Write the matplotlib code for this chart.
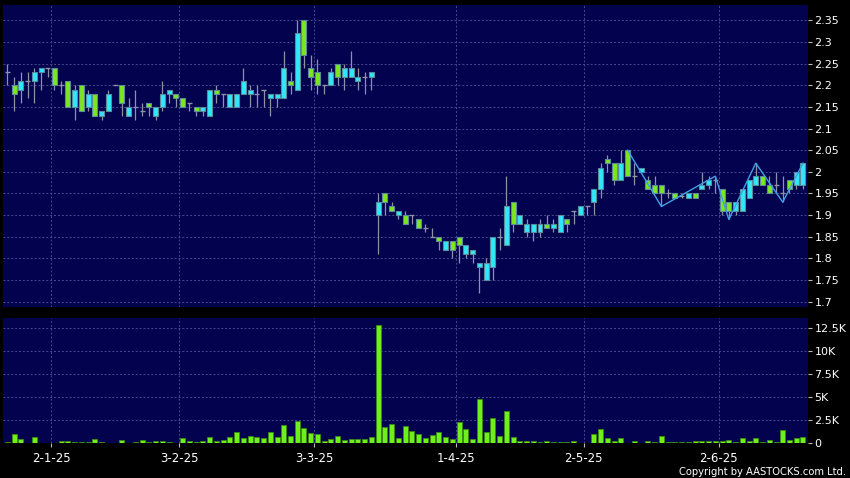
import matplotlib
matplotlib.use("Agg")
import matplotlib.pyplot as plt
import numpy as np
from matplotlib.ticker import FixedLocator

# ---- data ----
opens = [2.23, 2.20, 2.19, 2.21, 2.21, 2.23, 2.24, 2.24, 2.20, 2.21,
         2.15, 2.20, 2.15, 2.18, 2.13, 2.14, 2.20, 2.20, 2.13, 2.15,
         2.14, 2.16, 2.13, 2.15, 2.18, 2.18, 2.17, 2.16, 2.15, 2.14,
         2.13, 2.19, 2.18, 2.15, 2.15, 2.18, 2.18, 2.18, 2.19, 2.17,
         2.17, 2.17, 2.21, 2.19, 2.35, 2.24, 2.23, 2.20, 2.20, 2.25,
         2.22, 2.22, 2.21, 2.22, 2.22, 1.90, 1.95, 1.92, 1.90, 1.90,
         1.90, 1.89, 1.87, 1.85, 1.85, 1.82, 1.84, 1.85, 1.81, 1.81,
         1.78, 1.75, 1.78, 1.85, 1.83, 1.93, 1.88, 1.86, 1.86, 1.86,
         1.88, 1.87, 1.86, 1.89, 1.91, 1.90, 1.92, 1.93, 1.96, 2.03,
         2.02, 1.98, 2.05, 1.99, 2.00, 1.98, 1.97, 1.97, 1.95, 1.95,
         1.945, 1.94, 1.95, 1.96, 1.97, 1.98, 1.96, 1.93, 1.91, 1.91,
         1.94, 1.97, 1.99, 1.97, 1.97, 1.95, 1.98, 1.97, 1.97]
highs = [2.25, 2.22, 2.23, 2.23, 2.24, 2.24, 2.24, 2.24, 2.21, 2.21,
         2.20, 2.20, 2.19, 2.18, 2.14, 2.19, 2.20, 2.20, 2.17, 2.19,
         2.16, 2.16, 2.15, 2.21, 2.19, 2.18, 2.17, 2.16, 2.15, 2.15,
         2.19, 2.20, 2.18, 2.18, 2.18, 2.24, 2.20, 2.20, 2.19, 2.18,
         2.18, 2.28, 2.23, 2.35, 2.35, 2.27, 2.26, 2.20, 2.24, 2.25,
         2.25, 2.28, 2.24, 2.23, 2.23, 1.95, 1.95, 1.93, 1.91, 1.91,
         1.90, 1.89, 1.88, 1.87, 1.85, 1.84, 1.84, 1.85, 1.83, 1.82,
         1.79, 1.80, 1.85, 1.87, 1.99, 1.93, 1.90, 1.89, 1.88, 1.89,
         1.90, 1.89, 1.90, 1.89, 1.91, 1.92, 1.92, 1.96, 2.02, 2.04,
         2.02, 2.05, 2.05, 2.02, 2.01, 1.99, 1.99, 1.97, 1.96, 1.95,
         1.95, 1.95, 1.95, 2.00, 1.99, 1.99, 1.96, 1.93, 1.93, 1.96,
         1.98, 2.02, 1.99, 1.99, 2.00, 1.99, 1.98, 2.00, 2.02]
lows = [2.20, 2.14, 2.16, 2.17, 2.16, 2.19, 2.22, 2.19, 2.18, 2.15,
        2.12, 2.14, 2.14, 2.13, 2.12, 2.14, 2.20, 2.13, 2.13, 2.12,
        2.13, 2.13, 2.12, 2.14, 2.16, 2.15, 2.15, 2.14, 2.13, 2.13,
        2.13, 2.16, 2.15, 2.15, 2.15, 2.18, 2.15, 2.15, 2.15, 2.13,
        2.15, 2.17, 2.18, 2.19, 2.24, 2.19, 2.18, 2.18, 2.20, 2.20,
        2.19, 2.22, 2.19, 2.18, 2.19, 1.81, 1.90, 1.91, 1.89, 1.88,
        1.88, 1.87, 1.86, 1.85, 1.82, 1.82, 1.80, 1.79, 1.80, 1.79,
        1.72, 1.75, 1.75, 1.82, 1.83, 1.86, 1.88, 1.85, 1.84, 1.85,
        1.87, 1.86, 1.86, 1.86, 1.88, 1.90, 1.90, 1.90, 1.94, 2.00,
        1.97, 1.98, 1.99, 1.97, 2.00, 1.96, 1.95, 1.92, 1.94, 1.94,
        1.94, 1.94, 1.94, 1.96, 1.96, 1.95, 1.90, 1.89, 1.90, 1.91,
        1.94, 1.97, 1.97, 1.95, 1.95, 1.93, 1.95, 1.96, 1.96]
closes = [2.23, 2.18, 2.21, 2.21, 2.23, 2.24, 2.24, 2.20, 2.20, 2.15,
          2.19, 2.14, 2.18, 2.13, 2.14, 2.18, 2.20, 2.16, 2.15, 2.15,
          2.14, 2.15, 2.15, 2.18, 2.19, 2.17, 2.15, 2.16, 2.14, 2.15,
          2.19, 2.18, 2.18, 2.18, 2.18, 2.21, 2.19, 2.18, 2.19, 2.18,
          2.18, 2.24, 2.20, 2.32, 2.27, 2.22, 2.20, 2.20, 2.23, 2.22,
          2.24, 2.24, 2.22, 2.22, 2.23, 1.93, 1.93, 1.91, 1.91, 1.88,
          1.90, 1.87, 1.87, 1.85, 1.84, 1.84, 1.82, 1.83, 1.83, 1.82,
          1.79, 1.79, 1.85, 1.85, 1.92, 1.88, 1.90, 1.88, 1.88, 1.88,
          1.87, 1.88, 1.90, 1.88, 1.91, 1.92, 1.92, 1.96, 2.01, 2.02,
          1.98, 2.02, 1.99, 1.99, 2.01, 1.96, 1.95, 1.95, 1.95, 1.94,
          1.945, 1.95, 1.94, 1.97, 1.98, 1.98, 1.91, 1.91, 1.93, 1.96,
          1.98, 1.99, 1.97, 1.95, 1.97, 1.95, 1.96, 2.00, 2.02]
volumes_k = [0.14, 1.0, 0.43, 0.07, 0.72, 0.04, 0.03, 0.02, 0.25, 0.25,
             0.14, 0.14, 0.14, 0.47, 0.14, 0.07, 0.02, 0.33, 0.02, 0.14,
             0.33, 0.14, 0.22, 0.25, 0.11, 0.02, 0.58, 0.22, 0.14, 0.25,
             0.69, 0.25, 0.40, 0.65, 1.20, 0.58, 0.76, 0.65, 0.54, 1.23,
             0.65, 1.96, 0.80, 2.46, 1.67, 1.12, 1.01, 0.22, 0.47, 0.80,
             0.40, 0.51, 0.43, 0.51, 0.69, 12.86, 1.78, 2.10, 0.62, 1.85,
             1.30, 1.01, 0.60, 0.87, 1.23, 0.72, 0.51, 2.32, 1.52, 0.43,
             4.82, 1.23, 2.75, 0.83, 3.55, 0.69, 0.29, 0.29, 0.22, 0.11,
             0.22, 0.18, 0.18, 0.11, 0.25, 0.07, 0.03, 1.01, 1.56, 0.58,
             0.25, 0.58, 0.03, 0.22, 0.03, 0.22, 0.14, 0.83, 0.11, 0.18,
             0.11, 0.11, 0.22, 0.29, 0.29, 0.25, 0.29, 0.33, 0.14, 0.58,
             0.25, 0.58, 0.14, 0.33, 0.11, 1.49, 0.36, 0.58, 0.65]
zigzag_idx = [92, 97, 105, 107, 111, 115, 118]
zigzag_val = [2.05, 1.92, 1.99, 1.89, 2.02, 1.93, 2.02]
month_start_idx = [6, 25, 45, 66, 85, 105]
month_labels = ["2-1-25", "3-2-25", "3-3-25", "1-4-25", "2-5-25", "2-6-25"]
price_ticks = [1.7, 1.75, 1.8, 1.85, 1.9, 1.95, 2.0, 2.05, 2.1, 2.15,
               2.2, 2.25, 2.3, 2.35]
price_tick_labels = ["1.7", "1.75", "1.8", "1.85", "1.9", "1.95", "2", "2.05",
                     "2.1", "2.15", "2.2", "2.25", "2.3", "2.35"]
vol_ticks = [0, 2500, 5000, 7500, 10000, 12500]
vol_tick_labels = ["0", "2.5K", "5K", "7.5K", "10K", "12.5K"]

# ---- styling ----
NAVY = "#02024E"
CYAN = "#30E8FA"
GREEN = "#7CE61E"
VOLGREEN = "#6FF01C"
EDGE = "#5A8C9C"
WICK = "#9090A8"
GRID = "#4A4A90"
ZZ = "#3FA0E6"

n = len(opens)
x = np.arange(n)
O = np.array(opens); H = np.array(highs); L = np.array(lows); C = np.array(closes)
V = np.array(volumes_k) * 1000

fig = plt.figure(figsize=(8.5, 4.78), dpi=100, facecolor="black")
ax1 = fig.add_axes([0.0035, 0.3577, 0.9465, 0.6318])
ax2 = fig.add_axes([0.0035, 0.0726, 0.9465, 0.2615])

grid_pos = [m + 0.5 for m in month_start_idx]
for ax in (ax1, ax2):
    ax.set_facecolor(NAVY)
    for s in ax.spines.values():
        s.set_visible(False)
    ax.set_xlim(-0.64, n - 0.33)
    ax.yaxis.tick_right()
    ax.tick_params(axis="y", colors="#BBBBBB", labelcolor="white", length=3,
                   width=0.8, pad=2, labelsize=8)
    for gp in grid_pos:
        ax.axvline(gp, color=GRID, lw=0.7, ls=(0, (2, 2)), zorder=1)

# price panel
ax1.set_ylim(1.688, 2.385)
for t in price_ticks:
    ax1.axhline(t, color=GRID, lw=0.7, ls=(0, (2, 2)), zorder=1)
ax1.yaxis.set_major_locator(FixedLocator(price_ticks))
ax1.set_yticklabels(price_tick_labels)
ax1.set_xticks([])

ax1.vlines(x, L, H, color=WICK, lw=0.9, zorder=2)
up = C > O
dn = C < O
dj = C == O
w = 0.74
ax1.bar(x[up], (C - O)[up], bottom=O[up], width=w, color=CYAN,
        edgecolor=EDGE, linewidth=0.8, zorder=3)
ax1.bar(x[dn], (O - C)[dn], bottom=C[dn], width=w, color=GREEN,
        edgecolor=EDGE, linewidth=0.8, zorder=3)
ax1.hlines(C[dj], x[dj] - w / 2, x[dj] + w / 2, color=WICK, lw=1.0, zorder=3)
ax1.plot(zigzag_idx, zigzag_val, color=ZZ, lw=1.0, zorder=4)

# volume panel
ax2.set_ylim(0, 13590)
for t in vol_ticks[1:]:
    ax2.axhline(t, color=GRID, lw=0.7, ls=(0, (2, 2)), zorder=1)
ax2.yaxis.set_major_locator(FixedLocator(vol_ticks))
ax2.set_yticklabels(vol_tick_labels)
ax2.bar(x, V, width=w, color=VOLGREEN, edgecolor="#3A8A10", linewidth=0.6,
        zorder=3)
ax2.set_xticks(grid_pos)
ax2.set_xticklabels(month_labels)
ax2.tick_params(axis="x", colors="#BBBBBB", labelcolor="white", length=3,
                width=0.8, pad=3, labelsize=8.5)

fig.text(0.995, 0.0126, "Copyright by AASTOCKS.com Ltd.", color="white",
         fontsize=7.2, ha="right", va="center")

fig.savefig("out.png", dpi=100, facecolor="black")
